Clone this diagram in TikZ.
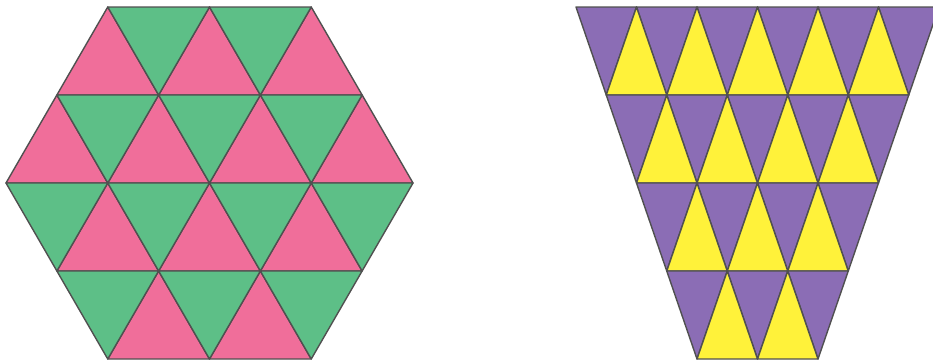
\documentclass[tikz,border=0pt]{standalone}
\definecolor{pinkc}{HTML}{F06E9A}
\definecolor{greenc}{HTML}{5DBF87}
\definecolor{purplec}{HTML}{8B6DB5}
\definecolor{yellowc}{HTML}{FFF23A}
\definecolor{edgec}{HTML}{505050}
\tikzset{tri/.style={draw=edgec, line width=1.4pt, line join=round}}
\begin{document}
\begin{tikzpicture}[x=1pt,y=-1pt]
\useasboundingbox (0,0) rectangle (933,362);
\clip (0,0) rectangle (933,362);
% hexagon: centre x 209.5, half side 50.875, row height 88
\foreach \r/\ups/\downs in {0/{-2,0,2}/{-1,1},1/{-3,-1,1,3}/{-2,0,2},2/{-2,0,2}/{-3,-1,1,3},3/{-1,1}/{-2,0,2}}{
  \foreach \k in \ups {
    \path[tri, fill=pinkc] ({209.5+\k*50.875},{7+88*\r}) -- ++(-50.875,88) -- ++(101.75,0) -- cycle;
  }
  \foreach \k in \downs {
    \path[tri, fill=greenc] ({209.5+\k*50.875},{95+88*\r}) -- ++(-50.875,-88) -- ++(101.75,0) -- cycle;
  }
}
% trapezoid: centre x 757.5, half base 30.25, row height 88
\foreach \r/\ups/\downs in {0/{-4,-2,0,2,4}/{-5,-3,-1,1,3,5},1/{-3,-1,1,3}/{-4,-2,0,2,4},2/{-2,0,2}/{-3,-1,1,3},3/{-1,1}/{-2,0,2}}{
  \foreach \k in \downs {
    \path[tri, fill=purplec] ({757.5+\k*30.25},{95+88*\r}) -- ++(-30.25,-88) -- ++(60.5,0) -- cycle;
  }
  \foreach \k in \ups {
    \path[tri, fill=yellowc] ({757.5+\k*30.25},{7+88*\r}) -- ++(-30.25,88) -- ++(60.5,0) -- cycle;
  }
}
\end{tikzpicture}
\end{document}
